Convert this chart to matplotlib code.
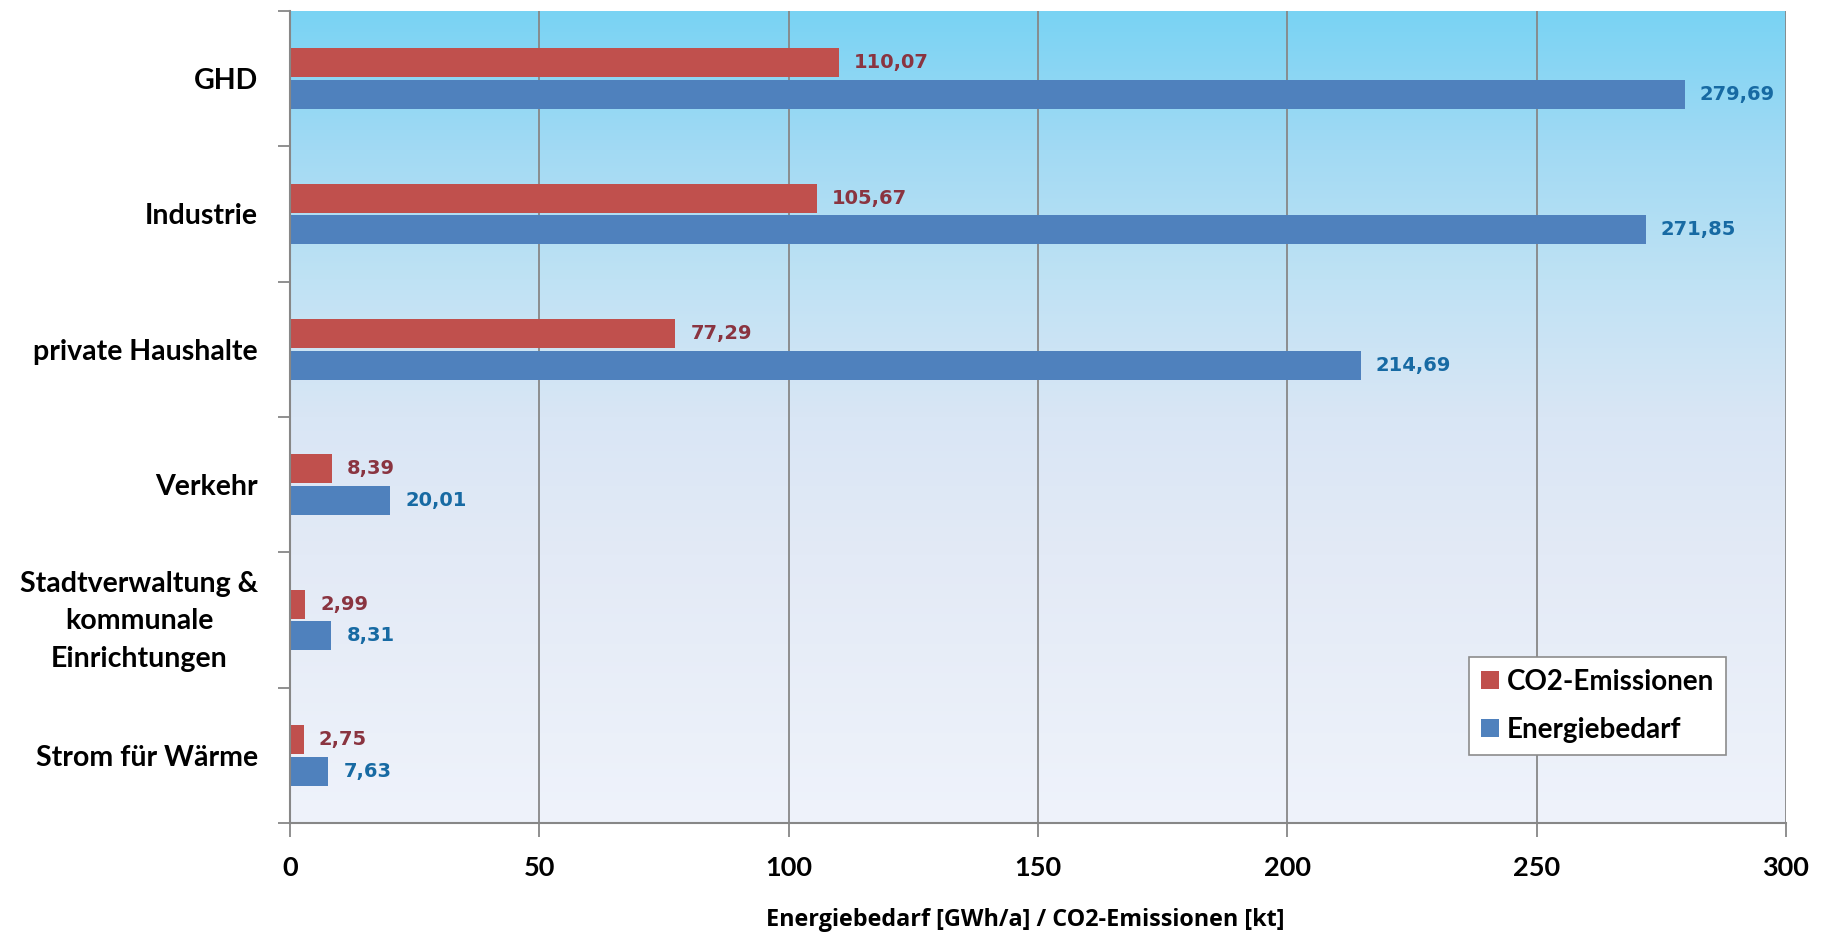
import numpy as np
import matplotlib
matplotlib.use("Agg")
import matplotlib.pyplot as plt
from matplotlib.colors import to_rgb
from matplotlib.transforms import ScaledTranslation

# Sectors (top to bottom) and their values
categories = [
    "GHD",
    "Industrie",
    "private Haushalte",
    "Verkehr",
    "Stadtverwaltung &\nkommunale\nEinrichtungen",
    "Strom für Wärme",
]
co2_emissions = [110.07, 105.67, 77.29, 8.39, 2.99, 2.75]      # kt
energy_demand = [279.69, 271.85, 214.69, 20.01, 8.31, 7.63]    # GWh/a
x_ticks = [0, 50, 100, 150, 200, 250, 300]

RED = "#c0504d"
BLUE = "#4f81bd"
RED_TXT = "#8a3440"
BLUE_TXT = "#176aa3"
GRID = "#878787"
LABEL_FONT = "Lato"

fig = plt.figure(figsize=(18.27, 9.36), dpi=100)
ax = fig.add_axes([290 / 1827, 113 / 936, 1496 / 1827, 812 / 936])

n = len(categories)
y = np.arange(n)
h = 0.214
gap = 0.022
off = h / 2 + gap / 2

xmin, xmax = 0, 300
ymin, ymax = -0.5, n - 0.5
ax.set_xlim(xmin, xmax)
ax.set_ylim(ymax, ymin)

# Vertical background gradient of the plot area
stops = [(0.00, "#79d3f4"), (0.17, "#a2daf3"), (0.33, "#bfe2f4"),
         (0.50, "#d9e6f5"), (0.67, "#e3eaf6"), (1.00, "#eff3fb")]
pos = np.linspace(0, 1, 400)
cols = np.array([to_rgb(c) for _, c in stops])
sp = np.array([s for s, _ in stops])
grad = np.stack([np.interp(pos, sp, cols[:, k]) for k in range(3)], axis=-1)
ax.imshow(grad[:, None, :], extent=[xmin, xmax, ymax, ymin], aspect="auto",
          zorder=0, interpolation="bilinear")

# Grid
ax.set_xticks(x_ticks)
ax.xaxis.grid(True, color=GRID, linewidth=1.3, zorder=0.5)
ax.set_axisbelow(True)

# Bars
ax.barh(y - off, co2_emissions, height=h, color=RED, zorder=2, label="CO2-Emissionen")
ax.barh(y + off, energy_demand, height=h, color=BLUE, zorder=2, label="Energiebedarf")

def fmt(v):
    return f"{v:.2f}".replace(".", ",")

label_style = dict(textcoords="offset points", va="center", ha="left",
                   fontsize=14, fontweight="bold", family="DejaVu Sans", zorder=3)
for yi, v in zip(y - off, co2_emissions):
    ax.annotate(fmt(v), (v, yi), xytext=(11, 0), color=RED_TXT, **label_style)
for yi, v in zip(y + off, energy_demand):
    ax.annotate(fmt(v), (v, yi), xytext=(11, 0), color=BLUE_TXT, **label_style)

# Spines
for s in ("top", "right"):
    ax.spines[s].set_visible(False)
for s in ("left", "bottom"):
    ax.spines[s].set_color(GRID)
    ax.spines[s].set_linewidth(1.5)

# X ticks
ax.tick_params(axis="x", direction="out", length=10, width=1.3, color=GRID,
               pad=14, labelsize=19.5)
for lab in ax.get_xticklabels():
    lab.set_fontfamily(LABEL_FONT)
    lab.set_fontweight("bold")

# Y ticks: boundaries as major ticks, labels at category centres
ax.set_yticks(np.arange(n + 1) - 0.5)
ax.set_yticklabels([])
ax.tick_params(axis="y", which="major", direction="out", length=9, width=1.3, color=GRID)
ax.set_yticks(y, minor=True)
ax.set_yticklabels(categories, minor=True)
ax.tick_params(axis="y", which="minor", length=0, pad=23, labelsize=20.5)
for lab in ax.get_yticklabels(minor=True):
    lab.set_fontfamily(LABEL_FONT)
    lab.set_fontweight("bold")
    lab.set_multialignment("center")
    lab.set_linespacing(1.55)
    if "\n" in lab.get_text():
        lab.set_transform(lab.get_transform() + ScaledTranslation(0, 7 / 100, fig.dpi_scale_trans))

ax.set_xlabel("Energiebedarf [GWh/a] / CO2-Emissionen [kt]", fontsize=16.8,
              fontweight="bold", family="Open Sans")
ax.xaxis.set_label_coords((1025 - 290) / 1496, (823 - 920) / 812)
ax.xaxis.label.set_va("center")

leg = ax.legend(loc="upper left", bbox_to_anchor=(0.788, 0.2044), borderaxespad=0,
                frameon=True, fancybox=False, framealpha=1, edgecolor="#8c8c8c",
                prop={"family": LABEL_FONT, "weight": "bold", "size": 20},
                handlelength=0.65, handleheight=0.65, handletextpad=0.3,
                labelspacing=0.8, borderpad=0.42)
leg.get_frame().set_linewidth(1.2)

fig.savefig("out.png", dpi=100, facecolor="white")
